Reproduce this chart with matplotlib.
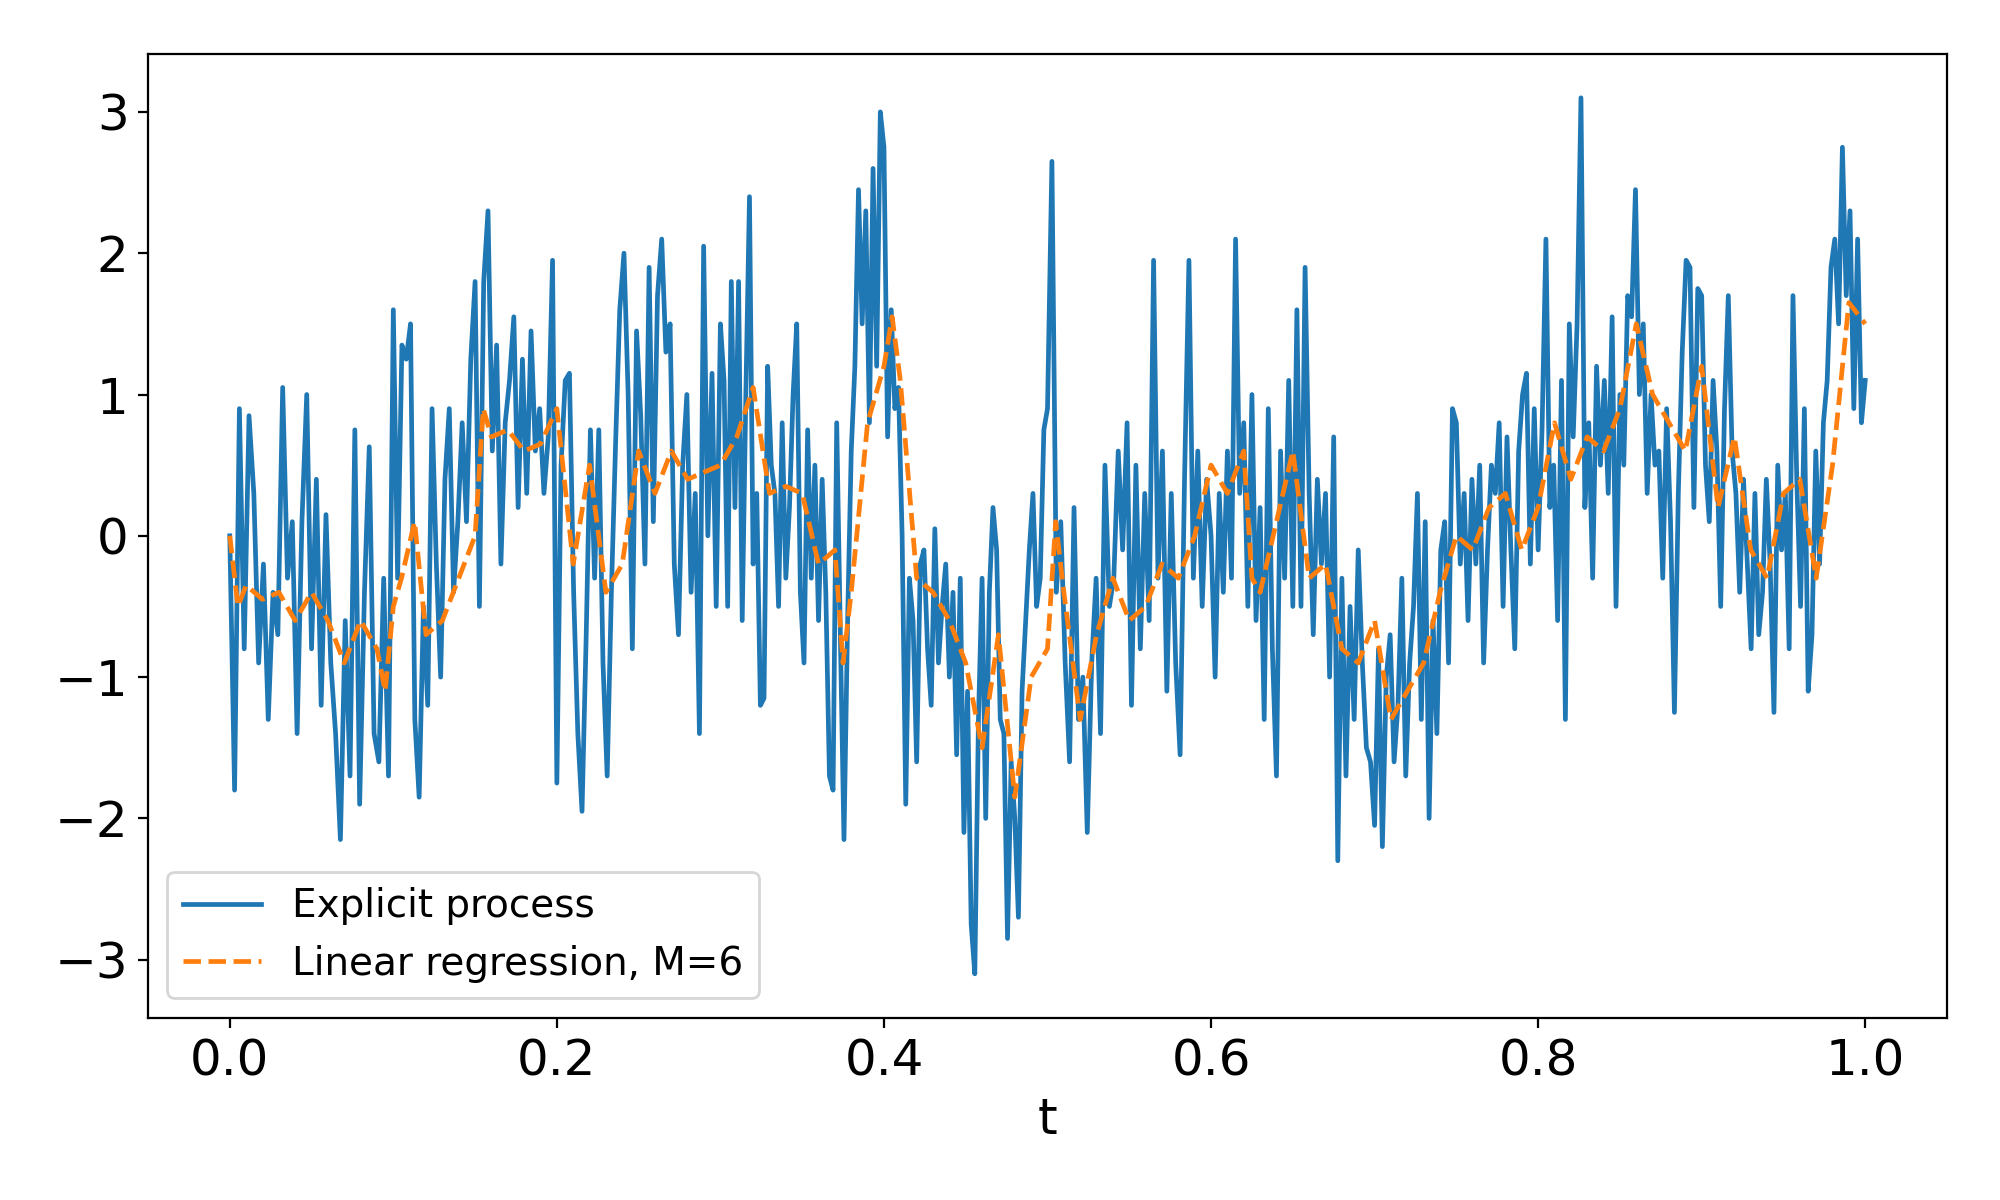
import numpy as np
import matplotlib
matplotlib.use("Agg")
import matplotlib.pyplot as plt

proc_chunks = [
    [0.0, -1.8, 0.9, -0.8, 0.85, 0.3, -0.9, -0.2, -1.3, -0.4, -0.7, 1.05, -0.3, 0.1, -1.4, 0.1, 1.0,
     -0.8, 0.4, -1.2, 0.15, -0.9, -1.4, -2.15, -0.6, -1.7, 0.75, -1.9, -0.4, 0.63, -1.4, -1.6, -0.3, -1.7],
    [1.6, -0.3, 1.35, 1.25, 1.5, -1.3, -1.85, -0.5, -1.2, 0.9, -0.2, -1.0, 0.4, 0.9, -0.4, 0.1, 0.8, 0.1,
     1.25, 1.8, -0.5, 1.8, 2.3, 0.6, 1.35, -0.2, 0.8, 1.1, 1.55, 0.2, 1.25, 0.3, 1.45, 0.6, 0.9, 0.3, 0.7, 1.95],
    [-1.75, 0.5, 1.1, 1.15, -0.4, -1.4, -1.95, -0.7, 0.75, -0.3, 0.75, -0.9, -1.7, -0.4, 0.65, 1.6, 2.0, 1.0,
     -0.8, 1.45, 0.85, -0.2, 1.9, 0.1, 1.7, 2.1, 1.3, 1.5, -0.2, -0.7, 0.5, 1.0, -0.4, 0.3, -1.4, 2.05, 0.0, 1.15, -0.5],
    [1.5, 1.1, -0.5, 1.8, 0.2, 1.8, -0.6, 1.0, 2.4, -0.2, 0.3, -1.2, -1.15, 1.2, 0.5, 0.3, -0.5, 0.8, -0.3, 0.2,
     1.0, 1.5, -0.4, -0.9, 0.75, -0.3, 0.5, -0.6, 0.4, -0.4, -1.7, -1.8, 0.8, -0.7, -2.15, -0.6, 0.6, 1.2, 2.45,
     1.5, 2.3, 0.8, 2.6, 1.2, 3.0],
    [2.75, 0.7, 1.6, 0.9, 1.05, 0.0, -1.9, -0.3, -0.6, -1.6, -0.2, -0.1, -0.8, -1.2, 0.05, -0.9, -0.5, -0.2, -1.0,
     -0.4, -1.55, -0.3, -2.1, -1.1, -2.75, -3.1, -1.3, -0.3, -2.0, -0.4, 0.2, -0.1, -1.3, -1.4, -2.85, -1.6, -2.0,
     -2.7, -1.1, -0.6, -0.1, 0.3, -0.5, -0.3, 0.75],
    [0.9, 2.65, -0.4, 0.1, -0.9, -1.6, 0.2, -1.3, -1.0, -2.1, -0.9, -0.3, -1.4, 0.5, -0.5, -0.3, 0.6, -0.1, 0.8,
     -1.2, 0.5, -0.8, 0.3, -0.6, 1.95, -0.3, 0.6, -1.1, 0.3, -0.9, -1.55, 0.4, 1.95, -0.3, 0.6, -0.5, 0.4],
    [0.0, -1.0, 0.3, -0.4, 0.6, -0.3, 2.1, 0.3, 0.8, -0.5, 1.0, -0.6, 0.2, -1.3, 0.9, -0.8, -1.7, 0.6, -0.3, 1.1,
     -0.5, 1.6, -0.5, 1.9, 0.3, -0.7, 0.4, -0.2, 0.3, -1.0, 0.7, -2.3, -0.3, -1.7, -0.5, -1.3, -0.1, -0.9, -1.5, -1.6],
    [-2.05, -0.8, -2.2, -1.0, -0.7, -1.6, -1.2, -0.3, -1.7, -0.9, -0.5, 0.3, -1.3, 0.1, -2.0, -0.6, -1.4, -0.1, 0.1,
     -0.9, 0.9, 0.8, -0.2, 0.3, -0.6, 0.4, -0.2, 0.5, -0.9, -0.1, 0.5, 0.3, 0.8, -0.5, 0.7, -0.1, -0.8, 0.6, 1.0,
     1.15, -0.2, 0.9],
    [-0.1, 0.75, 2.1, 0.2, 0.5, -0.6, 1.1, -1.3, 1.5, 0.7, 1.5, 3.1, 0.2, 0.8, -0.3, 1.2, 0.5, 1.1, 0.3, 1.55, -0.5,
     1.0, 0.5, 1.7, 1.55, 2.45, 1.0, 1.5, 0.3, 1.0, 0.5, 0.6, -0.3, 0.9, 0.1, -1.25, 0.3, 1.3, 1.95, 1.9, 0.2, 1.75],
    [1.7, 0.5, 0.1, 1.1, 0.6, -0.5, 0.9, 1.7, 0.6, 0.3, -0.4, 0.4, -0.2, -0.8, 0.3, -0.7, -0.4, 0.4, -0.2, -1.25,
     0.5, -0.1, 0.3, -0.8, 1.7, 0.4, -0.5, 0.9, -1.1, -0.7, 0.6, -0.2, 0.8, 1.1, 1.9, 2.1, 1.5, 2.75, 1.7, 2.3, 0.9,
     2.1, 0.8, 1.1],
]

# linear regression fit (M=6), read at these t values
reg_t = [0.0, 0.005, 0.01, 0.02, 0.03, 0.04, 0.05, 0.06, 0.07, 0.08, 0.09, 0.095, 0.10, 0.105, 0.113, 0.12, 0.13,
         0.14, 0.15, 0.155, 0.16, 0.17, 0.18, 0.19, 0.20, 0.21, 0.22, 0.23, 0.24, 0.25, 0.26, 0.27, 0.28, 0.29,
         0.30, 0.31, 0.32, 0.33, 0.34, 0.35, 0.36, 0.37, 0.375, 0.38, 0.39, 0.40, 0.405, 0.41, 0.42, 0.43, 0.44,
         0.45, 0.46, 0.47, 0.48, 0.49, 0.50, 0.505, 0.51, 0.52, 0.53, 0.54, 0.55, 0.56, 0.57, 0.58, 0.59, 0.60,
         0.61, 0.62, 0.625, 0.63, 0.64, 0.65, 0.66, 0.67, 0.68, 0.69, 0.70, 0.71, 0.72, 0.73, 0.74, 0.75, 0.76,
         0.77, 0.78, 0.79, 0.80, 0.81, 0.82, 0.83, 0.84, 0.85, 0.86, 0.87, 0.88, 0.89, 0.90, 0.91, 0.92, 0.93,
         0.94, 0.95, 0.96, 0.97, 0.98, 0.99, 1.0]
reg_y = [0.0, -0.5, -0.35, -0.45, -0.4, -0.6, -0.4, -0.6, -0.9, -0.6, -0.8, -1.1, -0.5, -0.3, 0.1, -0.7, -0.6,
         -0.3, 0.0, 0.9, 0.7, 0.75, 0.6, 0.65, 0.9, -0.2, 0.5, -0.4, -0.2, 0.6, 0.3, 0.6, 0.4, 0.45,
         0.5, 0.7, 1.05, 0.3, 0.35, 0.3, -0.2, -0.1, -0.9, -0.4, 0.8, 1.2, 1.55, 1.1, -0.3, -0.4, -0.6,
         -0.9, -1.5, -0.7, -1.85, -1.0, -0.8, 0.1, -0.4, -1.3, -0.7, -0.3, -0.6, -0.5, -0.2, -0.3, 0.0, 0.5,
         0.3, 0.6, -0.3, -0.4, 0.1, 0.6, -0.3, -0.2, -0.8, -0.9, -0.6, -1.3, -1.1, -0.9, -0.4, 0.0, -0.1,
         0.2, 0.3, -0.1, 0.2, 0.8, 0.4, 0.7, 0.6, 0.9, 1.5, 1.0, 0.8, 0.6, 1.2, 0.2, 0.7, -0.1,
         -0.3, 0.3, 0.4, -0.3, 0.5, 1.65, 1.5]

# t grid for the process: each chunk covers a tenth of [0, 1]
t_proc = []
x_proc = []
for k, chunk in enumerate(proc_chunks):
    last = (k == len(proc_chunks) - 1)
    tk = np.linspace(k / 10, (k + 1) / 10, len(chunk), endpoint=last)
    t_proc.extend(tk)
    x_proc.extend(chunk)

fig = plt.figure(figsize=(10, 6), dpi=200)
ax = fig.add_axes([0.074, 0.152, 0.8995, 0.803])
ax.plot(t_proc, x_proc, color='#1f77b4', lw=1.7, label='Explicit process')
ax.plot(reg_t, reg_y, color='#ff7f0e', lw=1.7, ls='--', label='Linear regression, M=6')
ax.set_xlabel('t', fontsize=18)
ax.tick_params(labelsize=18)
ax.legend(loc='lower left', fontsize=14)
fig.savefig('out.png', dpi=200)
